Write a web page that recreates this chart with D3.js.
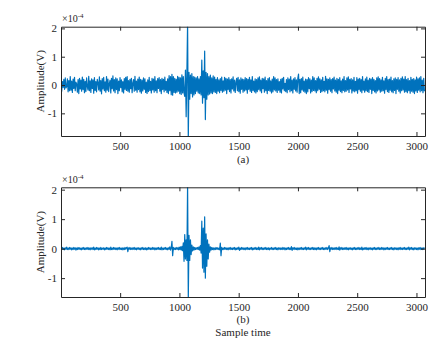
<!DOCTYPE html>
<html>
<head>
<meta charset="utf-8">
<script src="https://cdn.jsdelivr.net/npm/d3@7"></script>
<style>
  body { margin: 0; background: #fff; }
  text { font-family: "Times New Roman", "Liberation Serif", serif; fill: #262626; }
</style>
</head>
<body>
<div id="chart"></div>
<script>
// one value every 6 samples of the 3072-point record
const sampleStep = 6;
const sampleRange = [1, 3072];
const xTicks = [500, 1000, 1500, 2000, 2500, 3000];
const yTicks = [-1, 0, 1, 2];

// amplitude in units of 1e-4 V, (a) raw signal
const sigA = [
  .18,-.22,.12,-.08,.2,-.15,.25,-.1,-.05,.22,-.24,.16,-.2,.3,-.18,.14,
  -.26,.21,-.12,.27,-.2,.1,.04,-.25,.19,-.3,.24,-.14,.17,-.22,.28,-.16,
  .2,-.27,.13,-.23,.25,-.06,-.18,.31,-.2,.15,-.26,.22,-.12,.18,-.29,.26,
  -.19,.12,-.24,.2,.08,-.17,.29,-.22,.16,-.31,.23,-.14,.27,-.2,.11,-.25,
  .3,-.18,.21,-.23,.05,.17,-.28,.24,-.13,.32,-.21,.19,-.27,.25,-.16,.22,
  -.3,.14,-.2,.26,-.09,.18,-.24,.12,-.28,.23,-.15,.27,-.19,.3,-.22,.16,
  -.25,.2,-.13,.24,-.27,.07,.19,-.22,.31,-.18,.14,-.25,.21,-.16,.28,-.24,
  .2,-.29,.17,-.21,.25,-.15,.22,-.26,.1,-.3,.18,-.23,.27,-.19,.13,-.28,
  .24,-.17,.21,-.25,.3,-.2,.15,-.27,.23,-.12,.26,-.22,.19,-.3,.24,-.16,
  .2,-.24,.28,-.18,.13,-.26,.22,-.3,.33,-.2,.3,-.34,.38,-.36,.3,-.26,
  .24,-.28,.2,-.25,.31,-.22,.27,-.3,.25,-.33,.36,-.28,.3,-.28,-.4,.53,
  -1.12,.4,2.2,-1.95,.45,-.5,.35,-.3,.4,-.42,.3,-.35,.28,-.3,.25,-.22,
  .3,-.28,.22,-.3,.3,-.35,.88,-.64,.5,-.45,1.2,-1.22,.45,-.5,.4,-.35,
  .3,-.32,.35,-.28,.25,-.3,.32,-.24,.28,-.26,.2,-.3,.26,-.22,.18,-.27,
  .23,-.19,.28,-.25,.15,-.22,.27,-.18,.24,-.3,.21,-.16,.26,-.23,.19,-.28,
  .22,-.14,.29,-.21,.17,-.26,.1,.24,-.2,.27,-.23,.18,-.29,.25,-.15,.21,
  -.25,.19,-.21,.26,-.17,.23,-.29,.2,-.15,.27,-.22,.18,-.26,.3,-.19,.14,
  -.24,.22,-.28,.19,-.23,.25,-.16,.29,-.21,.17,-.27,.24,-.13,.22,-.25,.28,
  -.2,.16,-.3,.23,-.19,.26,-.22,.15,-.28,.21,-.24,.3,-.17,.25,-.21,.19,
  -.26,.22,-.18,.12,-.25,.2,-.28,.24,-.14,.27,-.2,.06,-.23,.19,-.27,.25,
  -.16,.21,-.24,.3,-.2,.17,-.28,.22,-.15,.26,-.21,.18,-.25,.24,.39,-.3,
  .2,-.27,.23,-.17,.28,-.22,.14,-.25,.21,-.3,.19,-.24,.26,-.13,.22,-.28,
  .17,-.23,.3,-.19,.25,-.21,.16,-.27,.24,-.2,.29,-.15,.22,-.26,.18,-.23,
  .27,-.2,.13,-.24,.31,-.18,.22,-.29,.2,-.16,.25,-.22,.19,-.27,.23,-.14,
  .28,-.21,.17,-.25,.24,-.3,.2,-.18,.26,-.23,.15,-.27,.21,-.19,.3,-.24,
  .16,-.22,.25,-.17,.29,-.26,.2,-.14,.23,-.28,.18,-.21,.27,-.24,.13,-.2,
  .26,-.29,.21,-.16,.24,-.22,.19,-.27,.3,-.18,.14,-.25,.22,-.2,.28,-.23,
  .17,-.26,.24,-.15,.21,-.3,.26,-.19,.2,-.24,.16,-.28,.25,-.21,.29,-.17,
  .23,-.25,.18,-.22,.27,-.2,.15,-.29,.24,-.16,.3,-.23,.19,-.26,.21,-.18,
  .28,-.24,.16,-.27,.22,-.19,.25,-.3,.2,-.15,.26,-.22,.18,-.28,.24,-.2,
  .29,-.17,.21,-.25,.3,-.23,.19,-.27,.24,-.2,.16,-.29,.27,-.22,.2,-.25,
  .23,-.3,.18,-.21,.28,-.26,.22,-.18,.25,-.24,.3,-.2,.17,-.27,.24,-.22
];

// amplitude in units of 1e-4 V, (b) denoised signal
const sigB = [
  .03,-.02,.04,-.03,.02,-.04,.03,-.02,.05,-.03,.02,-.03,.04,-.02,.03,-.04,
  .02,-.03,.04,-.02,.03,-.05,.02,-.03,.04,-.02,.03,-.03,.02,-.04,.03,-.02,
  .04,-.03,.02,-.03,.03,-.02,.04,-.03,.02,-.04,.03,-.02,.03,-.03,.05,-.04,
  .02,-.03,.04,-.02,.03,-.04,.02,-.03,.04,-.03,.02,-.02,.03,-.04,.02,-.03,
  .04,-.02,.03,-.03,.02,-.04,.05,-.03,.02,-.03,.04,-.02,.03,-.03,.02,-.04,
  .03,-.02,.04,-.03,.02,-.03,.03,-.04,.02,-.03,.04,-.02,.03,.05,-.1,.03,
  -.02,.04,-.03,.02,-.03,.03,-.02,.04,-.03,.02,-.04,.03,-.02,.03,-.03,.02,
  -.04,.03,-.02,.04,-.03,.02,-.03,.03,-.04,.02,-.03,.04,-.02,.03,-.03,.02,
  -.03,.04,-.02,.03,-.04,.02,-.03,.03,-.02,.04,-.03,.02,-.03,.05,-.04,.02,
  -.03,.03,-.02,.04,-.03,.02,-.04,.03,-.02,.06,-.05,.03,.25,-.24,.04,-.03,
  .02,-.03,.04,-.02,.03,-.04,.05,-.03,.06,-.05,.08,-.07,.2,-.43,.48,-.35,
  .3,-.4,2.2,-1.75,.45,-.4,.3,-.2,.12,-.08,.06,-.05,.04,-.03,.03,-.02,
  .04,-.03,.06,-.05,.1,-.15,.93,-.66,.7,-.8,1.08,-1.0,.5,-.6,.3,-.35,
  .15,-.12,.06,-.05,.04,-.03,.03,-.04,.02,-.03,.04,-.02,.03,-.03,.02,-.04,
  .19,-.24,.04,-.03,.02,-.03,.04,-.02,.03,-.03,.02,-.04,.03,-.02,.04,-.03,
  .02,-.03,.03,-.02,.04,-.04,.02,-.03,.03,-.02,.05,-.06,.02,-.03,.04,-.02,
  .03,-.03,.02,-.04,.03,-.02,.04,-.03,.02,-.03,.03,-.02,.04,-.04,.02,-.03,
  .03,-.02,.04,-.03,.02,-.03,.05,-.04,.03,-.02,.04,-.03,.02,-.03,.03,-.02,
  .04,-.03,.02,-.03,.03,-.04,.02,-.02,.04,-.03,.02,-.03,.03,-.02,.04,-.03,
  .02,-.04,.03,-.02,.03,-.03,.02,-.03,.04,-.02,.03,-.04,.02,-.03,.03,-.02,
  .04,-.03,.02,-.03,.07,-.06,.03,-.02,.04,-.03,.02,-.03,.03,-.04,.02,-.03,
  .03,-.02,.04,-.03,.02,-.03,.03,-.02,.05,-.04,.03,-.02,.04,-.03,.02,-.03,
  .03,-.02,.04,-.03,.03,-.03,.02,-.04,.03,-.02,.04,-.03,.02,-.03,.03,-.02,
  .04,-.03,.02,-.03,.03,-.02,.04,-.03,.02,.1,-.1,.03,-.02,.04,-.03,.02,
  -.03,.03,-.02,.04,-.03,.02,-.03,.06,-.05,.03,-.02,.04,-.03,.02,-.03,.03,
  -.02,.04,-.03,.02,-.04,.03,-.02,.03,-.03,.02,-.04,.03,-.02,.04,-.03,.02,
  -.03,.03,-.02,.04,-.03,.02,-.03,.05,-.04,.02,-.03,.03,-.02,.04,-.03,.02,
  -.04,.03,-.02,.03,-.03,.02,-.04,.03,-.02,.04,-.03,.02,-.03,.03,-.02,.04,
  -.03,.02,-.03,.04,-.02,.03,-.04,.02,-.03,.03,-.02,.04,-.03,.02,-.03,.03,
  -.02,.04,-.03,.02,-.04,.03,-.02,.03,-.03,.02,-.04,.03,-.02,.04,-.03,.02,
  -.03,.03,-.02,.04,-.03,.02,-.03,.03,-.02,.05,-.04,.03,-.02,.04,-.03,.02,
  -.04,.03,-.02,.03,-.03,.02,-.04,.03,-.02,.04,-.03,.02,-.03,.03,-.02,.04
];

const width = 445, height = 356;
const left = 61, right = 425;
const serif = '"Times New Roman", "Liberation Serif", serif';

const panels = [
  { id: "a", data: sigA, top: 26.7, bottom: 136, yDomain: [-1.8, 2.06], caption: "(a)", capY: 163, xlabel: null },
  { id: "b", data: sigB, top: 187.3, bottom: 297, yDomain: [-1.64, 2.08], caption: "(b)", capY: 323, xlabel: "Sample time" }
];

const svg = d3.select("#chart")
  .append("svg")
  .attr("width", width)
  .attr("height", height);

const x = d3.scaleLinear()
  .domain(sampleRange)
  .range([left, right]);

panels.forEach(function(p) {
  const y = d3.scaleLinear()
    .domain(p.yDomain)
    .range([p.bottom, p.top]);

  const g = svg.append("g");

  g.append("clipPath")
    .attr("id", "clip-" + p.id)
    .append("rect")
    .attr("x", left)
    .attr("y", p.top)
    .attr("width", right - left)
    .attr("height", p.bottom - p.top);

  const line = d3.line()
    .x(function(d, i) { return x(sampleRange[0] + i * sampleStep); })
    .y(function(d) { return y(d); });

  g.append("path")
    .datum(p.data)
    .attr("clip-path", "url(#clip-" + p.id + ")")
    .attr("fill", "none")
    .attr("stroke", "#0072BD")
    .attr("stroke-width", 1.2)
    .attr("stroke-linejoin", "round")
    .attr("d", line);

  // box axes, ticks pointing inwards
  const bottomAxis = g.append("g")
    .attr("transform", `translate(0, ${p.bottom})`)
    .call(d3.axisBottom(x).tickValues(xTicks).tickSizeInner(-4).tickSizeOuter(0).tickPadding(6).tickFormat(d3.format("d")));
  const topAxis = g.append("g")
    .attr("transform", `translate(0, ${p.top})`)
    .call(d3.axisTop(x).tickValues(xTicks).tickSizeInner(-4).tickSizeOuter(0).tickFormat(""));
  const leftAxis = g.append("g")
    .attr("transform", `translate(${left}, 0)`)
    .call(d3.axisLeft(y).tickValues(yTicks).tickSizeInner(-4).tickSizeOuter(0).tickPadding(4)
      .tickFormat(function(d) { return d < 0 ? "-" + Math.abs(d) : String(d); }));
  const rightAxis = g.append("g")
    .attr("transform", `translate(${right}, 0)`)
    .call(d3.axisRight(y).tickValues(yTicks).tickSizeInner(-4).tickSizeOuter(0).tickFormat(""));

  [bottomAxis, topAxis, leftAxis, rightAxis].forEach(function(a) {
    a.selectAll("path, line").attr("stroke", "#262626").attr("stroke-width", 1);
    a.selectAll("text")
      .attr("fill", "#262626")
      .style("font-family", serif)
      .style("font-size", "11px");
  });

  // exponent
  const ex = g.append("text")
    .attr("x", left + 1)
    .attr("y", p.top - 4.5)
    .style("font-size", "10px")
    .text("\u00d710");
  ex.append("tspan")
    .attr("dy", -4)
    .style("font-size", "7px")
    .text("-4");

  g.append("text")
    .attr("text-anchor", "middle")
    .attr("transform", `translate(44, ${(p.top + p.bottom) / 2}) rotate(-90)`)
    .style("font-size", "11px")
    .text("Amplitude(V)");

  g.append("text")
    .attr("text-anchor", "middle")
    .attr("x", (left + right) / 2)
    .attr("y", p.capY)
    .style("font-size", "11px")
    .text(p.caption);

  if (p.xlabel) {
    g.append("text")
      .attr("text-anchor", "middle")
      .attr("x", (left + right) / 2)
      .attr("y", 336)
      .style("font-size", "11px")
      .text(p.xlabel);
  }
});
</script>
</body>
</html>
